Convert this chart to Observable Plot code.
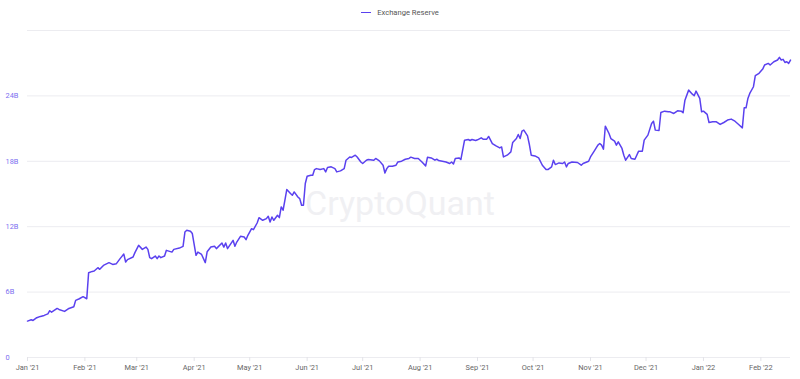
<!DOCTYPE html>
<html><head><meta charset="utf-8">
<script src="https://cdn.jsdelivr.net/npm/d3@7"></script>
<script src="https://cdn.jsdelivr.net/npm/@observablehq/plot@0.6"></script>
<style>
body{margin:0;background:#fff;font-family:Roboto,sans-serif;}
#legend{height:25px;display:flex;align-items:center;justify-content:center;font-size:7.6px;color:#555;}
#legend .sw{display:inline-block;width:10px;height:0;border-top:1.6px solid #5a41ef;margin-right:6px;}
#chart svg{display:block;}
</style></head><body>
<div id="legend"><span class="sw"></span><span id="legendText"></span></div>
<div id="chart"></div>
<script>
const seriesName = "Exchange Reserve";
const watermark = "CryptoQuant";
const dates = [
"2021-01-01","2021-01-03","2021-01-04","2021-01-06","2021-01-08","2021-01-10","2021-01-12","2021-01-13","2021-01-14","2021-01-17",
"2021-01-18","2021-01-21","2021-01-23","2021-01-26","2021-01-27","2021-01-29","2021-01-31","2021-02-02","2021-02-03","2021-02-05",
"2021-02-06","2021-02-08","2021-02-09","2021-02-11","2021-02-14","2021-02-16","2021-02-18","2021-02-20","2021-02-22","2021-02-23",
"2021-02-24","2021-02-27","2021-02-28","2021-03-02","2021-03-04","2021-03-06","2021-03-07","2021-03-08","2021-03-09","2021-03-11",
"2021-03-12","2021-03-13","2021-03-14","2021-03-16","2021-03-17","2021-03-20","2021-03-21","2021-03-24","2021-03-26","2021-03-27",
"2021-03-28","2021-03-30","2021-03-31","2021-04-02","2021-04-03","2021-04-05","2021-04-07","2021-04-08","2021-04-10","2021-04-12",
"2021-04-13","2021-04-16","2021-04-17","2021-04-18","2021-04-19","2021-04-22","2021-04-23","2021-04-24","2021-04-26","2021-04-28",
"2021-04-29","2021-04-30","2021-05-02","2021-05-03","2021-05-05","2021-05-06","2021-05-08","2021-05-10","2021-05-11","2021-05-12",
"2021-05-13","2021-05-14","2021-05-16","2021-05-17","2021-05-18","2021-05-19","2021-05-20","2021-05-21","2021-05-23","2021-05-24",
"2021-05-25","2021-05-27","2021-05-28","2021-05-29","2021-05-30","2021-05-31","2021-06-01","2021-06-03","2021-06-04","2021-06-05",
"2021-06-06","2021-06-08","2021-06-10","2021-06-11","2021-06-12","2021-06-14","2021-06-16","2021-06-17","2021-06-19","2021-06-21",
"2021-06-22","2021-06-24","2021-06-25","2021-06-27","2021-06-28","2021-06-30","2021-07-01","2021-07-03","2021-07-04","2021-07-07",
"2021-07-08","2021-07-10","2021-07-12","2021-07-13","2021-07-14","2021-07-15","2021-07-17","2021-07-19","2021-07-20","2021-07-22",
"2021-07-24","2021-07-26","2021-07-27","2021-07-29","2021-07-31","2021-08-02","2021-08-04","2021-08-05","2021-08-07","2021-08-09",
"2021-08-10","2021-08-11","2021-08-13","2021-08-15","2021-08-17","2021-08-18","2021-08-19","2021-08-20","2021-08-22","2021-08-23",
"2021-08-25","2021-08-27","2021-08-28","2021-08-29","2021-08-31","2021-09-01","2021-09-03","2021-09-04","2021-09-06","2021-09-07",
"2021-09-09","2021-09-11","2021-09-13","2021-09-14","2021-09-15","2021-09-17","2021-09-19","2021-09-20","2021-09-22","2021-09-23",
"2021-09-24","2021-09-25","2021-09-26","2021-09-28","2021-09-29","2021-09-30","2021-10-02","2021-10-04","2021-10-06","2021-10-08",
"2021-10-09","2021-10-11","2021-10-12","2021-10-13","2021-10-15","2021-10-17","2021-10-18","2021-10-19","2021-10-20","2021-10-22",
"2021-10-25","2021-10-27","2021-10-28","2021-10-31","2021-11-01","2021-11-03","2021-11-05","2021-11-06","2021-11-07","2021-11-08",
"2021-11-09","2021-11-11","2021-11-12","2021-11-14","2021-11-15","2021-11-16","2021-11-18","2021-11-19","2021-11-20","2021-11-22",
"2021-11-23","2021-11-25","2021-11-27","2021-11-29","2021-11-30","2021-12-02","2021-12-04","2021-12-05","2021-12-06","2021-12-08",
"2021-12-09","2021-12-11","2021-12-13","2021-12-14","2021-12-16","2021-12-18","2021-12-20","2021-12-21","2021-12-22","2021-12-24",
"2021-12-26","2021-12-27","2021-12-28","2021-12-30","2021-12-31","2022-01-01","2022-01-03","2022-01-04","2022-01-06","2022-01-08",
"2022-01-10","2022-01-12","2022-01-14","2022-01-16","2022-01-18","2022-01-20","2022-01-22","2022-01-23","2022-01-24","2022-01-25",
"2022-01-26","2022-01-28","2022-01-29","2022-01-31","2022-02-02","2022-02-03","2022-02-05","2022-02-06","2022-02-08","2022-02-10",
"2022-02-11","2022-02-12","2022-02-13","2022-02-14","2022-02-15","2022-02-16","2022-02-17"
];
const reserveBillions = [
3.34,3.46,3.40,3.65,3.77,3.86,4.00,4.29,4.16,4.50,
4.41,4.23,4.47,4.66,5.24,5.39,5.58,5.39,7.78,7.90,
7.93,8.24,8.09,8.45,8.70,8.54,8.61,9.07,9.49,8.76,
8.98,9.22,9.62,10.29,9.92,10.13,9.92,9.16,9.07,9.31,
9.07,9.31,9.16,9.31,9.83,9.67,9.92,10.04,10.20,11.51,
11.67,11.58,11.37,9.37,9.67,9.45,8.70,9.70,10.13,10.20,
9.99,10.50,10.13,10.50,9.99,10.75,10.20,10.59,11.12,11.05,
10.81,11.21,11.82,11.73,12.34,12.83,12.59,12.74,12.96,12.43,
12.89,12.59,13.05,12.83,13.81,13.51,14.43,15.41,15.04,14.88,
15.19,14.73,14.58,13.97,13.97,15.96,16.63,16.72,16.72,17.24,
17.33,17.24,17.33,17.03,17.43,17.49,17.33,17.03,17.12,17.33,
18.10,18.40,18.35,18.56,18.40,17.94,17.80,18.10,18.16,18.10,
18.26,18.04,17.64,16.93,17.33,17.55,17.55,17.64,17.94,18.01,
18.19,18.26,18.38,18.26,18.26,17.94,17.58,18.38,18.31,18.10,
18.19,18.07,18.01,17.94,17.80,17.94,17.76,18.26,18.31,18.16,
19.94,20.00,19.91,20.00,19.91,19.97,20.15,20.03,20.03,20.28,
19.63,19.41,19.23,19.32,18.40,18.56,18.86,19.73,20.09,20.46,
20.09,20.76,20.86,20.33,19.54,18.56,18.49,18.31,17.64,17.24,
17.24,17.49,18.10,17.70,17.85,17.80,17.94,17.49,17.80,17.94,
17.89,17.64,17.80,18.01,18.40,18.93,19.48,19.63,19.48,19.11,
21.22,20.55,20.09,19.85,19.48,19.78,19.18,18.56,18.10,18.62,
18.26,18.19,18.93,18.93,19.94,20.40,21.47,21.68,20.86,20.83,
22.48,22.60,22.54,22.54,22.39,22.63,22.60,22.45,23.61,24.53,
24.16,24.01,24.44,23.77,22.54,22.60,22.30,21.56,21.62,21.62,
21.38,21.56,21.78,21.87,21.68,21.38,21.07,22.91,22.91,23.77,
24.23,24.84,25.85,26.07,26.46,26.83,26.98,26.83,27.13,27.29,
27.54,27.29,27.35,27.07,27.13,26.98,27.29
];
const yTicks = [0, 6, 12, 18, 24];
const yTickLabels = ["0", "6B", "12B", "18B", "24B"];
const gridLines = [0, 6, 12, 18, 24, 30];
const xTicks = ["2021-01-01","2021-02-01","2021-03-01","2021-04-01","2021-05-01","2021-06-01","2021-07-01",
  "2021-08-01","2021-09-01","2021-10-01","2021-11-01","2021-12-01","2022-01-01","2022-02-01"];
const xTickLabels = ["Jan '21","Feb '21","Mar '21","Apr '21","May '21","Jun '21","Jul '21",
  "Aug '21","Sep '21","Oct '21","Nov '21","Dec '21","Jan '22","Feb '22"];
const xDomain = ["2021-01-01", "2022-02-17"];

document.getElementById("legendText").textContent = seriesName;

const data = dates.map((d, i) => ({date: new Date(d), value: reserveBillions[i]}));
const xTickDates = xTicks.map(d => new Date(d));

const chart = Plot.plot({
  width: 800,
  height: 354,
  marginLeft: 27,
  marginRight: 10,
  marginTop: 5,
  marginBottom: 22,
  style: {fontFamily: "Roboto, sans-serif", fontSize: "7.4px", background: "#fff", overflow: "visible"},
  x: {type: "utc", domain: xDomain.map(d => new Date(d))},
  y: {domain: [0, 30]},
  marks: [
    Plot.ruleY(gridLines, {stroke: "#ececf0", strokeWidth: 1}),
    Plot.text([watermark], {frameAnchor: "middle", dx: -9, dy: 10, fontSize: 34, fontWeight: 400, fill: "#f0f0f3", fontFamily: "Roboto, sans-serif"}),
    Plot.axisY({ticks: yTicks, tickSize: 0, tickPadding: 0, textAnchor: "start", dx: -22,
      tickFormat: d => yTickLabels[yTicks.indexOf(d)], fill: "#7d70f0", label: null}),
    Plot.axisX({ticks: xTickDates, tickSize: 4, tickPadding: 3, stroke: "#e3e3e8", fill: "#666",
      tickFormat: d => xTickLabels[xTickDates.findIndex(t => +t === +d)], label: null}),
    Plot.line(data, {x: "date", y: "value", stroke: "#5a41ef", strokeWidth: 1.5})
  ]
});
document.getElementById("chart").appendChild(chart);
</script>
</body></html>
